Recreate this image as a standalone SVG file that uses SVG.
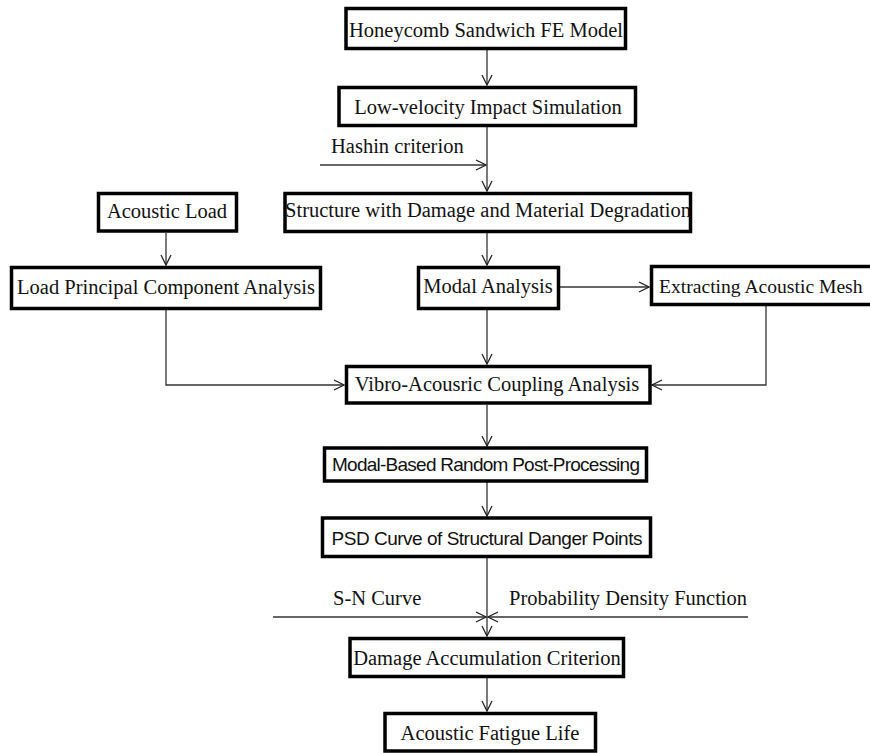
<svg xmlns="http://www.w3.org/2000/svg" width="870" height="753" viewBox="0 0 870 753">
<defs>
<marker id="ah" viewBox="0 0 12 12" refX="11" refY="6" markerWidth="12" markerHeight="12" markerUnits="userSpaceOnUse" orient="auto">
<path d="M1,1 L11,6 L1,11" fill="none" stroke="#222" stroke-width="1.3"/>
</marker>
<style>
.box{fill:#fff;stroke:#000;stroke-width:3.5}
.t{font-family:"Liberation Serif","Times New Roman",serif;font-size:20.5px;fill:#111;text-anchor:middle}
.s{font-family:"Liberation Sans",Arial,sans-serif;font-size:19px;fill:#111;text-anchor:middle}
.lbl{font-family:"Liberation Serif","Times New Roman",serif;font-size:20.5px;fill:#111}
.c{fill:none;stroke:#333;stroke-width:1.3}
</style>
</defs>
<rect width="870" height="753" fill="#fff"/>
<g id="connectors">
<line class="c" x1="487" y1="50" x2="487" y2="85" marker-end="url(#ah)"/>
<line class="c" x1="487" y1="127" x2="487" y2="191" marker-end="url(#ah)"/>
<line class="c" x1="320" y1="165" x2="486" y2="165" marker-end="url(#ah)"/>
<line class="c" x1="166" y1="233" x2="166" y2="265" marker-end="url(#ah)"/>
<line class="c" x1="487" y1="233" x2="487" y2="265" marker-end="url(#ah)"/>
<line class="c" x1="560" y1="287" x2="649" y2="287" marker-end="url(#ah)"/>
<polyline class="c" points="166,310 166,385 344,385" marker-end="url(#ah)"/>
<line class="c" x1="487" y1="310" x2="487" y2="364" marker-end="url(#ah)"/>
<polyline class="c" points="766,306 766,385 652,385" marker-end="url(#ah)"/>
<line class="c" x1="487" y1="405" x2="487" y2="446" marker-end="url(#ah)"/>
<line class="c" x1="487" y1="482" x2="487" y2="516" marker-end="url(#ah)"/>
<line class="c" x1="487" y1="558" x2="487" y2="636" marker-end="url(#ah)"/>
<line class="c" x1="273" y1="617" x2="486" y2="617" marker-end="url(#ah)"/>
<line class="c" x1="748" y1="617" x2="488" y2="617" marker-end="url(#ah)"/>
<line class="c" x1="487" y1="678" x2="487" y2="711" marker-end="url(#ah)"/>
<text class="lbl" x="331" y="153">Hashin criterion</text>
<text class="lbl" x="333" y="605">S-N Curve</text>
<text class="lbl" x="509" y="605">Probability Density Function</text>
</g>
<g id="n1"><rect class="box" x="346" y="8.5" width="279.5" height="40"/><text class="t" x="486" y="37">Honeycomb Sandwich FE Model</text></g>
<g id="n2"><rect class="box" x="339" y="87.5" width="296.5" height="38"/><text class="t" x="488" y="114">Low-velocity Impact Simulation</text></g>
<g id="n3"><rect class="box" x="285" y="193.5" width="405.5" height="38"/><text class="t" x="488" y="217">Structure with Damage and Material Degradation</text></g>
<g id="n4"><rect class="box" x="98.5" y="193.5" width="138" height="37.5"/><text class="t" x="167" y="218">Acoustic Load</text></g>
<g id="n5"><rect class="box" x="11.5" y="267.5" width="309" height="41"/><text class="t" x="166" y="294">Load Principal Component Analysis</text></g>
<g id="n6"><rect class="box" x="418.5" y="267.5" width="140" height="41"/><text class="t" x="488" y="293">Modal Analysis</text></g>
<g id="n7"><path class="box" d="M870,266.5 H651.5 V304.5 H870"/><text class="lbl" x="659" y="293" style="font-size:19.6px">Extracting Acoustic Mesh</text></g>
<g id="n8"><rect class="box" x="346.5" y="366.5" width="303.5" height="36.5"/><text class="t" x="497" y="391">Vibro-Acousric Coupling Analysis</text></g>
<g id="n9"><rect class="box" x="324.5" y="448" width="322" height="33"/><text class="s" x="486" y="471" textLength="308">Modal-Based Random Post-Processing</text></g>
<g id="n10"><rect class="box" x="322.5" y="518" width="328" height="38.5"/><text class="s" x="487" y="545" textLength="311">PSD Curve of Structural Danger Points</text></g>
<g id="n11"><rect class="box" x="350" y="638.5" width="273.5" height="38"/><text class="t" x="487" y="665">Damage Accumulation Criterion</text></g>
<g id="n12"><rect class="box" x="385" y="713.5" width="210.5" height="37.5"/><text class="t" x="490" y="740">Acoustic Fatigue Life</text></g>
</svg>
